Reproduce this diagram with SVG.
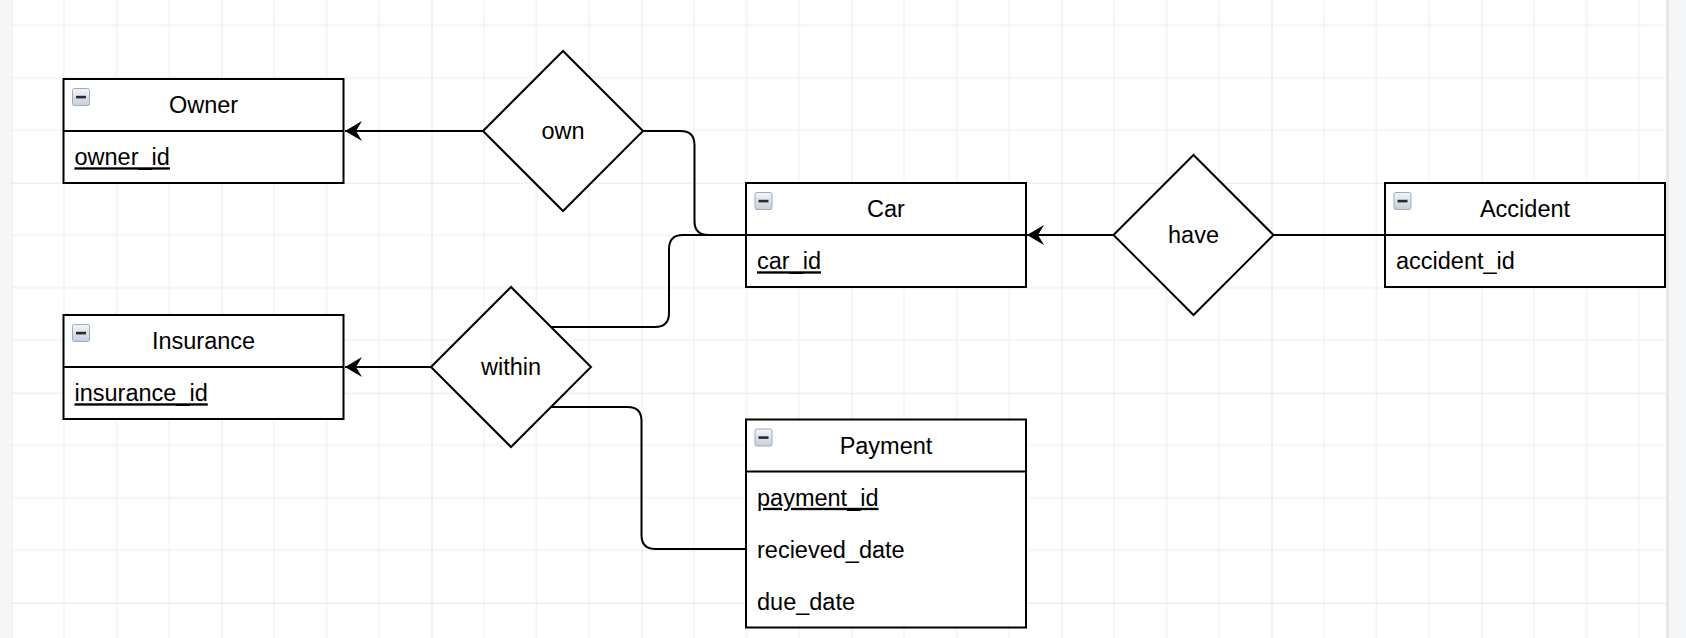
<svg xmlns="http://www.w3.org/2000/svg" width="1686" height="638" viewBox="0 0 1686 638">
<style>
.box{fill:#ffffff;stroke:#000000;stroke-width:2}
.div{stroke:#000000;stroke-width:2}
.t{font-family:"Liberation Sans",Arial,Helvetica,sans-serif;font-size:23.5px;fill:#000000}
.c{text-anchor:middle}
.u{text-decoration:underline}
.edge{fill:none;stroke:#000000;stroke-width:2}
.dia{fill:#ffffff;stroke:#000000;stroke-width:2}
</style>
<defs>
<pattern id="grid" patternUnits="userSpaceOnUse" x="11.5" y="-27.3" width="210" height="210">
<path d="M52.5,0V210M105,0V210M157.5,0V210M0,52.5H210M0,105H210M0,157.5H210" stroke="#f2f2f2" stroke-width="1.5" fill="none"/>
<path d="M0,0V210M0,0H210" stroke="#dfdfdf" stroke-width="1.5" fill="none"/>
</pattern>
<linearGradient id="ig" x1="0" y1="0" x2="0" y2="1">
<stop offset="0" stop-color="#f4f6f9"/>
<stop offset="1" stop-color="#c5cfdb"/>
</linearGradient>
<g id="icon">
<rect x="0.5" y="0.5" width="17" height="17" rx="2" fill="url(#ig)" stroke="#9eabb9" stroke-width="1"/>
<rect x="4" y="7.8" width="10" height="2.6" fill="#2a2a2a"/>
</g>
<marker id="arr" markerUnits="userSpaceOnUse" viewBox="-18 -11 19 22" refX="0" refY="0" markerWidth="19" markerHeight="22" orient="auto">
<path d="M-17,-10 L0,0 L-17,10 L-11,0 Z" fill="#000000"/>
</marker>
</defs>
<rect x="0" y="0" width="1686" height="638" fill="#f5f6f8"/>
<rect x="11" y="0" width="1655" height="638" fill="#ffffff"/>
<rect x="11" y="0" width="1655" height="638" fill="url(#grid)"/>
<rect x="1666" y="0" width="3" height="638" fill="#e6e7e9"/>

<g id="connectors">
<path class="edge" d="M483,131 L345,131" marker-end="url(#arr)"/>
<path class="edge" d="M643,131 H680.5 Q694.5,131 694.5,145 V221 Q694.5,235 708.5,235 H746"/>
<path class="edge" d="M551,327 H655 Q669,327 669,313 V249 Q669,235 683,235 H746"/>
<path class="edge" d="M431,367 L345,367" marker-end="url(#arr)"/>
<path class="edge" d="M551,407 H627.5 Q641.5,407 641.5,421 V535 Q641.5,549 655.5,549 H746"/>
<path class="edge" d="M1113.5,235 L1027,235" marker-end="url(#arr)"/>
<path class="edge" d="M1273.5,235 H1385"/>
</g>

<g id="owner">
<rect class="box" x="63.5" y="79" width="280" height="104"/>
<line class="div" x1="63.5" y1="131" x2="343.5" y2="131"/>
<use href="#icon" x="72" y="88"/>
<text class="t c" x="203.5" y="113.3">Owner</text>
<text class="t u" x="74.5" y="165.3">owner_id</text>
</g>

<g id="insurance">
<rect class="box" x="63.5" y="315" width="280" height="104"/>
<line class="div" x1="63.5" y1="367" x2="343.5" y2="367"/>
<use href="#icon" x="72" y="324"/>
<text class="t c" x="203.5" y="349.3">Insurance</text>
<text class="t u" x="74.5" y="401.3">insurance_id</text>
</g>

<g id="car">
<rect class="box" x="746" y="183" width="280" height="104"/>
<line class="div" x1="746" y1="235" x2="1026" y2="235"/>
<use href="#icon" x="754.5" y="192"/>
<text class="t c" x="886" y="217.3">Car</text>
<text class="t u" x="757" y="269.3">car_id</text>
</g>

<g id="accident">
<rect class="box" x="1385" y="183" width="280" height="104"/>
<line class="div" x1="1385" y1="235" x2="1665" y2="235"/>
<use href="#icon" x="1393.5" y="192"/>
<text class="t c" x="1525" y="217.3">Accident</text>
<text class="t" x="1396" y="269.3">accident_id</text>
</g>

<g id="payment">
<rect class="box" x="746" y="419.5" width="280" height="208"/>
<line class="div" x1="746" y1="471.5" x2="1026" y2="471.5"/>
<use href="#icon" x="754.5" y="428.5"/>
<text class="t c" x="886" y="453.8">Payment</text>
<text class="t u" x="757" y="505.8">payment_id</text>
<text class="t" x="757" y="557.8">recieved_date</text>
<text class="t" x="757" y="609.8">due_date</text>
</g>

<g id="own">
<polygon class="dia" points="483,131 563,51 643,131 563,211"/>
<text class="t c" x="563" y="139">own</text>
</g>

<g id="within">
<polygon class="dia" points="431,367 511,287 591,367 511,447"/>
<text class="t c" x="511" y="375">within</text>
</g>

<g id="have">
<polygon class="dia" points="1113.5,235 1193.5,155 1273.5,235 1193.5,315"/>
<text class="t c" x="1193.5" y="243">have</text>
</g>
</svg>
